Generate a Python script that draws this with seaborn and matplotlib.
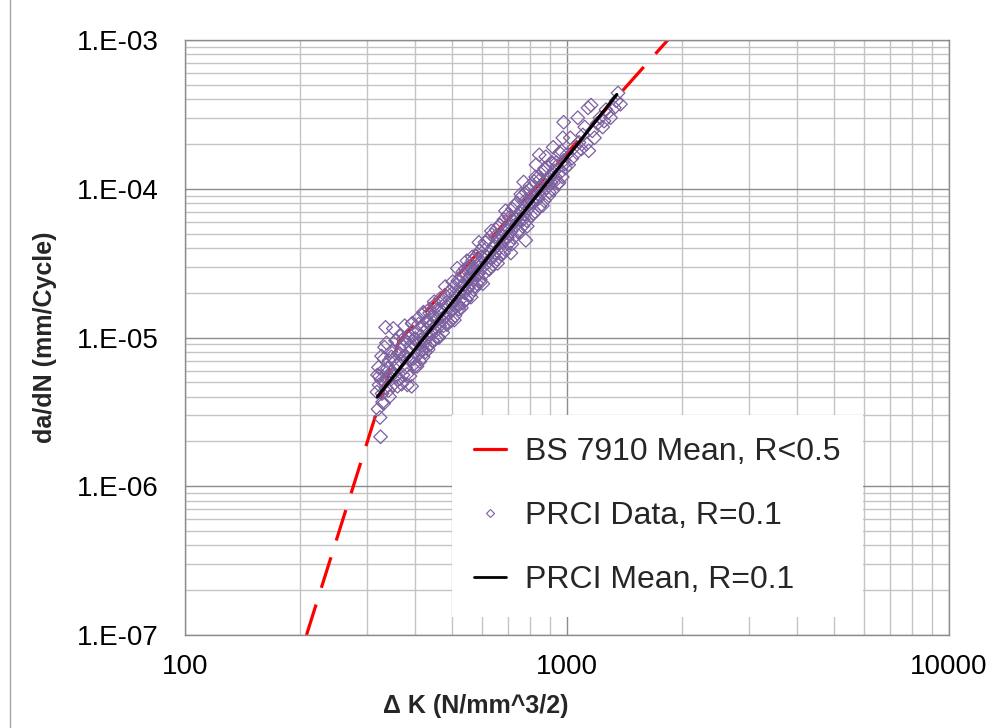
import matplotlib
matplotlib.use("Agg")
import matplotlib.pyplot as plt
from matplotlib.lines import Line2D
import seaborn as sns
import pandas as pd

# BS 7910 two-stage mean curve (vertices)
bs_dk = [208, 363, 1836]
bs_dadn = [1.0e-7, 9.4e-6, 1.0e-3]

# PRCI mean line, R=0.1 (end points)
mean_dk = [319, 1350]
mean_dadn = [4.0e-6, 4.3e-4]

# PRCI data points, R=0.1
data_dk = [
    318, 319, 320, 321, 322, 324, 325, 326, 327, 328, 330, 331, 333, 334, 335, 336,
    337, 339, 341, 342, 344, 346, 348, 350, 351, 353, 355, 357, 358, 360,
    362, 364, 366, 368, 370, 372, 374, 376, 378, 380, 382, 384, 386, 388, 390, 392,
    394, 396, 398, 400, 402, 404, 406, 408, 410, 412, 414, 416, 418, 420, 422, 424,
    426, 428, 430, 432, 434, 436, 438, 440, 442, 444, 446, 448, 450,
    452, 455, 458, 461, 464, 467, 470, 473, 476, 479, 482, 485, 488, 491, 494, 497,
    500, 503, 506, 509, 512, 515, 518, 521, 524, 527, 530, 533, 536, 539, 542, 545,
    548, 551, 554, 557, 560, 563, 566, 569, 572, 575, 578, 581, 584, 587, 590, 593,
    596, 600,
    604, 608, 612, 616, 620, 624, 628, 632, 636, 640, 644, 648, 652, 656, 660, 664,
    668, 672, 676, 680, 684, 688, 692, 696, 700, 705, 710, 713, 715, 720, 725, 730,
    735, 740, 745, 750, 755, 760, 765, 770, 770, 775, 780, 780, 785, 790, 795, 800,
    805, 810, 815, 820, 825, 830, 830, 836, 842, 846, 848, 854, 860, 866, 872, 878,
    880, 884, 890, 896, 902, 908, 914, 920, 920, 926, 932, 940, 948, 956, 964, 972,
    975, 980, 980, 990, 1000,
    1010, 1020, 1030, 1045, 1060, 1067, 1075, 1090, 1100, 1113, 1125, 1135, 1140, 1156,
    1165, 1180, 1200, 1220, 1240, 1250, 1265, 1280, 1300, 1330, 1345, 1360, 1380,
]
data_dadn = [
    4.3e-6, 5.6e-6, 3.3e-6, 6.3e-6, 4.8e-6, 2.9e-6, 2.15e-6, 5.2e-6, 7.5e-6, 4.2e-6,
    6.0e-6, 3.6e-6, 8.6e-6, 5.0e-6, 1.17e-5, 4.6e-6, 9.2e-6, 6.2e-6, 4.4e-6, 7.0e-6,
    5.4e-6, 8.0e-6, 5.9e-6, 4.8e-6, 1.15e-5, 7.2e-6, 5.5e-6, 9.6e-6, 6.5e-6, 4.7e-6,
    7.8e-6, 5.3e-6, 1.02e-5, 6.9e-6, 8.8e-6, 5.6e-6, 7.5e-6, 1.2e-5, 6.3e-6, 9.4e-6,
    4.8e-6, 7.9e-6, 1.05e-5, 5.5e-6, 8.6e-6, 4.7e-6, 1.25e-5, 7.2e-6, 9.8e-6, 6.4e-6,
    8.9e-6, 1.1e-5, 7.6e-6, 1.35e-5, 9.1e-6, 6.9e-6, 1.02e-5, 8.2e-6, 1.2e-5, 7.4e-6,
    1.45e-5, 9.6e-6, 8.0e-6, 1.13e-5, 1.3e-5, 8.7e-6, 1.02e-5, 1.55e-5, 9.0e-6, 1.2e-5,
    1.08e-5, 1.4e-5, 9.4e-6, 1.25e-5, 1.65e-5,
    1.1e-5, 1.35e-5, 1.0e-5, 1.5e-5, 1.2e-5, 1.75e-5, 1.3e-5, 1.08e-5, 1.55e-5, 1.38e-5,
    1.9e-5, 1.22e-5, 1.6e-5, 1.45e-5, 2.05e-5, 1.3e-5, 1.75e-5, 1.55e-5, 2.2e-5, 1.4e-5,
    1.85e-5, 1.65e-5, 2.4e-5, 1.55e-5, 2.0e-5, 1.8e-5, 2.6e-5, 1.7e-5, 2.25e-5, 2.0e-5,
    2.9e-5, 1.8e-5, 2.45e-5, 2.15e-5, 3.0e-5, 1.95e-5, 2.65e-5, 2.35e-5, 3.3e-5, 2.1e-5,
    2.8e-5, 2.5e-5, 3.5e-5, 2.3e-5, 3.05e-5, 2.7e-5, 3.8e-5, 2.45e-5, 3.25e-5, 2.95e-5,
    4.1e-5, 2.7e-5, 3.55e-5, 3.15e-5, 4.5e-5, 2.9e-5, 3.8e-5, 3.4e-5, 4.9e-5, 3.1e-5,
    4.15e-5, 3.7e-5, 5.3e-5, 3.35e-5, 4.5e-5, 4.0e-5, 5.7e-5, 3.6e-5, 4.9e-5, 4.4e-5,
    6.2e-5, 3.9e-5, 5.3e-5, 4.75e-5, 6.7e-5, 4.3e-5, 5.8e-5, 3.7e-5, 5.2e-5, 7.3e-5,
    4.7e-5, 6.3e-5, 5.7e-5, 8.0e-5, 5.1e-5, 6.9e-5, 6.2e-5, 8.8e-5, 5.6e-5, 7.5e-5,
    1.11e-4, 6.8e-5, 9.5e-5, 4.5e-5, 6.1e-5, 8.2e-5, 7.4e-5, 1.05e-4,
    6.6e-5, 9.0e-5, 8.1e-5, 1.12e-4, 7.0e-5, 9.6e-5, 1.45e-4, 8.7e-5, 1.2e-4, 1.69e-4,
    7.6e-5, 1.03e-4, 9.4e-5, 1.3e-4, 8.3e-5, 1.12e-4, 1.64e-4, 1.02e-4, 1.4e-4, 9.0e-5,
    1.22e-4, 1.1e-4, 1.5e-4, 9.8e-5, 1.9e-4, 1.32e-4, 1.2e-4, 1.42e-4, 1.08e-4, 1.75e-4,
    1.3e-4, 1.2e-4, 2.2e-4, 1.55e-4, 2.8e-4, 1.38e-4, 1.7e-4,
    1.45e-4, 2.2e-4, 1.6e-4, 1.9e-4, 1.75e-4, 3.0e-4, 2.05e-4, 1.85e-4, 2.3e-4, 2.6e-4,
    2.0e-4, 3.5e-4, 1.8e-4, 3.65e-4, 2.45e-4, 2.2e-4, 2.75e-4, 3.0e-4, 2.6e-4, 2.85e-4,
    3.4e-4, 3.25e-4, 3.0e-4, 3.5e-4, 3.9e-4, 4.4e-4, 3.7e-4,
]

# more points from the dense core of the band
core_dk = [
    323, 329, 332, 338, 343, 347, 352, 356, 361, 365,
    369, 373, 377, 381, 385, 389, 393, 397, 401, 405,
    409, 413, 417, 421, 425, 429, 433, 437, 441, 445,
    449, 453, 457, 462, 466, 471, 475, 480, 484, 489,
    493, 498, 502, 507, 511, 516, 520, 525, 529, 534,
    538, 543, 547, 552, 556, 561, 565, 570, 574, 579,
    583, 588, 592, 598, 602, 610, 618, 626, 634, 642,
    650, 658, 666, 674, 682, 690, 698, 707, 717, 727,
    737, 747, 757, 767, 777, 787, 797, 808, 818, 828,
    838, 850, 862, 874, 886, 898, 910, 924, 938, 952,
    968, 985,
]
core_dadn = [
    5.5e-6, 3.68e-6, 7.2e-6, 5.4e-6, 4.0e-6, 7.4e-6, 5.75e-6, 9.5e-6, 5.2e-6, 7.8e-6,
    4.86e-6, 9.8e-6, 7.5e-6, 5.65e-6, 9.9e-6, 7.1e-6, 1.24e-5, 6.6e-6, 9.8e-6, 6.4e-6,
    1.23e-5, 9.65e-6, 8.1e-6, 1.48e-5, 9.2e-6, 1.28e-5, 8.3e-6, 1.46e-5, 1.22e-5, 9.5e-6,
    1.74e-5, 1.18e-5, 1.53e-5, 1.0e-5, 1.83e-5, 1.43e-5, 1.2e-5, 2.2e-5, 1.72e-5, 1.26e-5,
    2.04e-5, 1.53e-5, 2.37e-5, 1.31e-5, 1.95e-5, 2.92e-5, 1.64e-5, 2.39e-5, 1.58e-5, 2.77e-5,
    2.25e-5, 1.8e-5, 3.28e-5, 2.18e-5, 2.95e-5, 1.87e-5, 3.48e-5, 2.85e-5, 2.21e-5, 3.53e-5,
    2.67e-5, 4.36e-5, 2.34e-5, 3.49e-5, 2.3e-5, 4.37e-5, 3.47e-5, 2.87e-5, 5.2e-5, 3.49e-5,
    4.8e-5, 3.15e-5, 5.7e-5, 4.8e-5, 3.69e-5, 7.1e-5, 4.68e-5, 6.4e-5, 4.24e-5, 7.7e-5,
    6.25e-5, 5.2e-5, 9.2e-5, 6.2e-5, 8.3e-5, 5.6e-5, 9.9e-5, 8.2e-5, 6.8e-5, 1.2e-4,
    8.5e-5, 1.15e-4, 7.7e-5, 1.37e-4, 1.14e-4, 9.5e-5, 1.5e-4, 1.11e-4, 1.5e-4, 1.1e-4,
    1.79e-4, 1.47e-4,
]

x_ticks = [100, 1000, 10000]
x_tick_labels = ["100", "1000", "10000"]
y_ticks = [1e-7, 1e-6, 1e-5, 1e-4, 1e-3]
y_tick_labels = ["1.E-07", "1.E-06", "1.E-05", "1.E-04", "1.E-03"]

bs_df = pd.DataFrame({"dK": bs_dk, "dadN": bs_dadn})
mean_df = pd.DataFrame({"dK": mean_dk, "dadN": mean_dadn})
data_df = pd.concat([pd.DataFrame({"dK": data_dk, "dadN": data_dadn}),
                     pd.DataFrame({"dK": core_dk, "dadN": core_dadn})],
                    ignore_index=True)

sns.set_style("white")
plt.rcParams["font.family"] = ["Liberation Sans", "DejaVu Sans"]

fig = plt.figure(figsize=(9.99, 7.28), dpi=100)
ax = fig.add_axes([185 / 999, 1 - 635 / 728, (949 - 185) / 999, (635 - 40) / 728])

# red BS 7910 curve sits under the data
sns.lineplot(data=bs_df, x="dK", y="dadN", ax=ax, color="#ff0000", linewidth=2.3,
             linestyle=(0, (10, 5.5)), sort=False, estimator=None, zorder=2,
             label="BS 7910 Mean, R<0.5", legend=False)
sns.scatterplot(data=data_df, x="dK", y="dadN", ax=ax, marker="D", s=48,
                facecolor="none", edgecolor="#7d60a0", linewidth=0.9, zorder=3,
                label="PRCI Data, R=0.1", legend=False)
sns.lineplot(data=mean_df, x="dK", y="dadN", ax=ax, color="black", linewidth=2.3,
             sort=False, estimator=None, zorder=4,
             label="PRCI Mean, R=0.1", legend=False)

ax.set_xscale("log")
ax.set_yscale("log")
ax.set_xlim(100, 10000)
ax.set_ylim(1e-7, 1e-3)
ax.set_xticks(x_ticks)
ax.set_xticklabels(x_tick_labels)
ax.set_yticks(y_ticks)
ax.set_yticklabels(y_tick_labels)
ax.tick_params(axis="both", which="both", length=0, labelsize=20, colors="black")
ax.tick_params(axis="x", pad=14)
ax.tick_params(axis="y", pad=19)

ax.grid(True, which="major", color="#8c8c8c", linewidth=1.0, zorder=0)
ax.grid(True, which="minor", color="#c4c4c4", linewidth=1.0, zorder=0)
ax.set_axisbelow(True)
for side in ["left", "bottom", "top", "right"]:
    ax.spines[side].set_color("#8c8c8c")
    ax.spines[side].set_linewidth(1.0)

ax.set_xlabel("\u0394 K (N/mm^3/2)", fontsize=18, fontweight="bold")
ax.set_ylabel("da/dN (mm/Cycle)", fontsize=18, fontweight="bold")
ax.xaxis.set_label_coords(0.38, -0.10)
ax.yaxis.set_label_coords(-0.168, 0.5)

handles = [
    Line2D([0], [0], color="#ff0000", linewidth=2.3),
    Line2D([0], [0], marker="D", markersize=4.5, markerfacecolor="none",
           markeredgecolor="#7d60a0", markeredgewidth=0.8, linestyle="none"),
    Line2D([0], [0], color="black", linewidth=2.0),
]
labels = ["BS 7910 Mean, R<0.5", "PRCI Data, R=0.1", "PRCI Mean, R=0.1"]
leg = ax.legend(handles, labels, loc="upper left", bbox_to_anchor=(0.349, 0.370),
                fontsize=23, frameon=True, fancybox=False, facecolor="white",
                edgecolor="none", framealpha=1, handlelength=1.0, handletextpad=0.6,
                labelspacing=1.06, borderpad=0.7, borderaxespad=0)
leg.set_zorder(10)

# left border of the chart area
fig.add_artist(Line2D([10 / 999, 10 / 999], [0, 1], color="#a6a6a6", linewidth=1.0,
                      transform=fig.transFigure))

fig.savefig("out.png", dpi=100)
